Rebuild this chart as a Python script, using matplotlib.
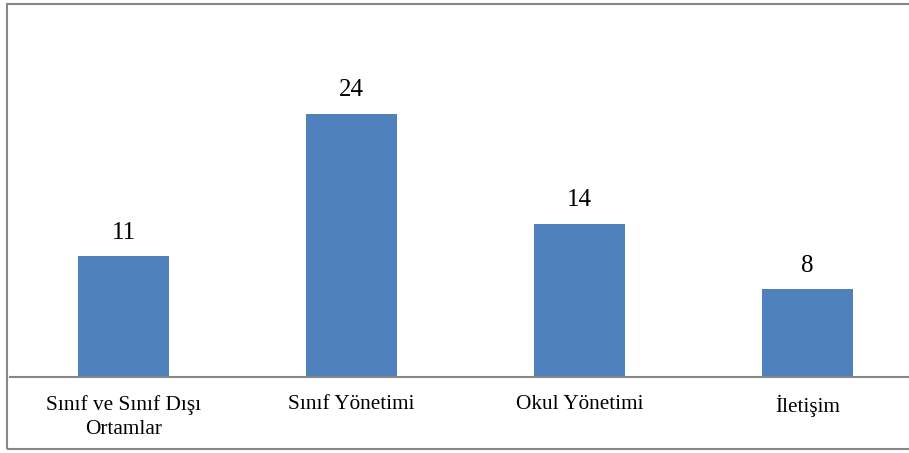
import matplotlib
matplotlib.use("Agg")
import matplotlib.pyplot as plt
from matplotlib.patches import Rectangle

categories = ["Sınıf ve Sınıf Dışı\nOrtamlar", "Sınıf Yönetimi", "Okul Yönetimi", "İletişim"]
values = [11, 24, 14, 8]

plt.rcParams['font.family'] = ['Liberation Serif', 'DejaVu Serif']

W, H = 909, 453
fig = plt.figure(figsize=(W / 100, H / 100), dpi=100)

# axes geometry in pixels
x0, x1 = 9.5, 921.5
ybot = 377
ymax = 30
pxu = 10.96
ytop = ybot - ymax * pxu
ax = fig.add_axes([x0 / W, (H - ybot) / H, (x1 - x0) / W, (ybot - ytop) / H])

xs = range(len(categories))
bars = ax.bar(xs, values, width=0.4, color="#4F81BD")
ax.set_xlim(-0.5, len(categories) - 0.5)
ax.set_ylim(0, ymax)

for x, v in zip(xs, values):
    ax.annotate(str(v), (x, v), xytext=(0, 9), textcoords="offset points",
                ha="center", va="bottom", fontsize=18, color="#000000")

ax.set_xticks(list(xs))
ax.set_xticklabels(categories, fontsize=15.3, linespacing=1.35)
ax.tick_params(axis="x", length=0, pad=13)
ax.set_yticks([])
for s in ["top", "right", "left"]:
    ax.spines[s].set_visible(False)
ax.spines["bottom"].set_color("#868686")
ax.spines["bottom"].set_linewidth(1.5)

# outer frame
fig.patches.append(Rectangle((7 / W, (H - 449) / H), (W + 10) / W, (449 - 4) / H,
                             transform=fig.transFigure, fill=False,
                             edgecolor="#868686", linewidth=1.5))

fig.savefig("out.png", dpi=100)
